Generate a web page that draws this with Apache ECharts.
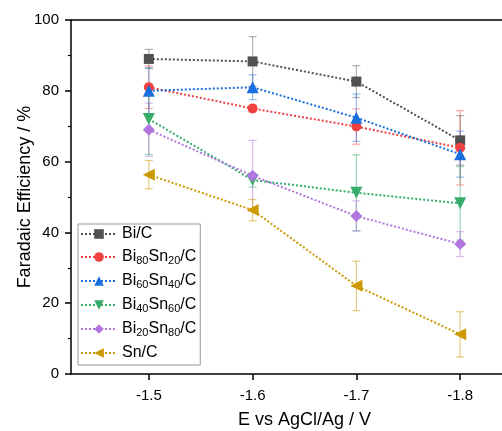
<!DOCTYPE html>
<html>
<head>
<meta charset="utf-8">
<script src="https://cdn.jsdelivr.net/npm/echarts@6/dist/echarts.min.js"></script>
<style>
html, body { margin: 0; padding: 0; background: #fff; }
#chart { width: 502px; height: 431px; }
</style>
</head>
<body>
<div id="chart"></div>
<script>
var potentials = [-1.5, -1.6, -1.7, -1.8];
var names = ['Bi/C', 'Bi80Sn20/C', 'Bi60Sn40/C', 'Bi40Sn60/C', 'Bi20Sn80/C', 'Sn/C'];
var biC = [89, 88.3, 82.6, 66];
var bi80 = [81, 75, 69.9, 63.9];
var bi60 = [80, 81, 72.4, 62.1];
var bi40 = [72, 54.8, 51.2, 48.2];
var bi20 = [69, 56, 44.6, 36.7];
var snC = [56.3, 46.3, 24.9, 11.2];
var biCErr = [2.7, 7, 4.5, 7];
var bi80Err = [6, 1, 5, 10.5];
var bi60Err = [6.5, 3.5, 6.7, 6.5];
var bi40Err = [10, 2, 10.7, 10.4];
var bi20Err = [7.5, 10, 4.3, 3.5];
var snCErr = [4, 3, 7, 6.4];

var values = [biC, bi80, bi60, bi40, bi20, snC];
var errors = [biCErr, bi80Err, bi60Err, bi40Err, bi20Err, snCErr];
var colors = ['#515151', '#F14040', '#1A6FDF', '#37AD6B', '#B177DE', '#CC9900'];
var errColors = ['rgba(81,81,81,0.45)', 'rgba(241,64,64,0.45)', 'rgba(26,111,223,0.45)',
                 'rgba(55,173,107,0.5)', 'rgba(177,119,222,0.5)', 'rgba(204,153,0,0.5)'];
var symbols = ['rect', 'circle', 'triangle', 'triangle', 'diamond', 'triangle'];
var rotates = [0, 0, 0, 180, 0, 90];
var sizes = [10, 10, 12, 12, 12, 12];

var font = 'Liberation Sans, Arial, sans-serif';
var myChart = echarts.init(document.getElementById('chart'));

var series = [];
// error bars first so the markers sit on top
for (var k = 0; k < names.length; k++) {
    (function (k) {
        series.push({
            name: 'err' + k,
            type: 'custom',
            z: 1,
            data: potentials.map(function (x, i) {
                return [x, values[k][i] - errors[k][i], values[k][i] + errors[k][i]];
            }),
            encode: {x: 0, y: [1, 2]},
            renderItem: function (params, api) {
                var lo = api.coord([api.value(0), api.value(1)]);
                var hi = api.coord([api.value(0), api.value(2)]);
                var w = 4;
                var st = {stroke: errColors[k], lineWidth: 1.2};
                return {
                    type: 'group',
                    children: [
                        {type: 'line', shape: {x1: hi[0], y1: hi[1], x2: lo[0], y2: lo[1]}, style: st},
                        {type: 'line', shape: {x1: hi[0] - w, y1: hi[1], x2: hi[0] + w, y2: hi[1]}, style: st},
                        {type: 'line', shape: {x1: lo[0] - w, y1: lo[1], x2: lo[0] + w, y2: lo[1]}, style: st}
                    ]
                };
            }
        });
    })(k);
}
for (var k = 0; k < names.length; k++) {
    series.push({
        name: names[k],
        type: 'line',
        z: 3,
        data: potentials.map(function (x, i) { return [x, values[k][i]]; }),
        symbol: symbols[k],
        symbolSize: sizes[k],
        symbolRotate: rotates[k],
        showAllSymbol: true,
        itemStyle: {color: colors[k], opacity: 1},
        lineStyle: {color: colors[k], width: 2, type: [2, 2]},
        emphasis: {disabled: true}
    });
}

var option = {
    animation: false,
    backgroundColor: '#fff',
    textStyle: {fontFamily: font},
    grid: {left: 71, top: 20, bottom: 57, right: -36, containLabel: false, outerBoundsMode: 'none'},
    legend: {
        data: names,
        orient: 'vertical',
        left: 78,
        top: 224,
        padding: [2, 4, 4, 2],
        itemWidth: 36,
        itemHeight: 12,
        itemGap: 7,
        borderColor: '#999',
        borderWidth: 1,
        formatter: function (name) {
            return name.replace(/([A-Za-z\/]+)|(\d+)/g, function (m, a, d) {
                return a ? '{n|' + a + '}' : '{s|' + d + '}';
            });
        },
        textStyle: {
            color: '#000',
            fontFamily: font,
            rich: {
                n: {fontSize: 16, lineHeight: 18, fontFamily: font, color: '#000'},
                s: {fontSize: 11, lineHeight: 11, verticalAlign: 'bottom', fontFamily: font, color: '#000', padding: [4, 0, 0, 0]}
            }
        }
    },
    xAxis: [{
        type: 'value',
        inverse: true,
        min: -1.875,
        max: -1.425,
        name: 'E vs AgCl/Ag / V',
        nameLocation: 'middle',
        nameGap: 37,
        nameTextStyle: {fontSize: 18, color: '#000', fontFamily: font},
        axisLine: {onZero: false, lineStyle: {color: '#000', width: 1.5}},
        axisTick: {show: true, length: 6, inside: false, customValues: potentials, lineStyle: {color: '#000', width: 1.5}},
        axisLabel: {customValues: potentials, fontSize: 15, color: '#000', margin: 14, fontFamily: font,
                    formatter: function (v) { return v.toFixed(1); }},
        splitLine: {show: false}
    }, {
        type: 'value',
        position: 'top',
        inverse: true,
        min: -1.875,
        max: -1.425,
        axisLine: {show: true, onZero: false, lineStyle: {color: '#000', width: 1.5}},
        axisTick: {show: false},
        axisLabel: {show: false},
        splitLine: {show: false}
    }],
    yAxis: {
        type: 'value',
        min: 0,
        max: 100,
        interval: 20,
        name: 'Faradaic Efficiency / %',
        nameLocation: 'middle',
        nameGap: 37,
        nameMoveOverlap: false,
        nameTextStyle: {fontSize: 18, color: '#000', fontFamily: font},
        axisLine: {show: true, onZero: false, lineStyle: {color: '#000', width: 1.5}},
        axisTick: {show: true, length: 6, lineStyle: {color: '#000', width: 1.5}},
        minorTick: {show: true, splitNumber: 2, length: 3, lineStyle: {color: '#000', width: 1.2}},
        axisLabel: {fontSize: 15, color: '#000', margin: 12, fontFamily: font},
        splitLine: {show: false}
    },
    series: series
};
myChart.setOption(option);
</script>
</body>
</html>
